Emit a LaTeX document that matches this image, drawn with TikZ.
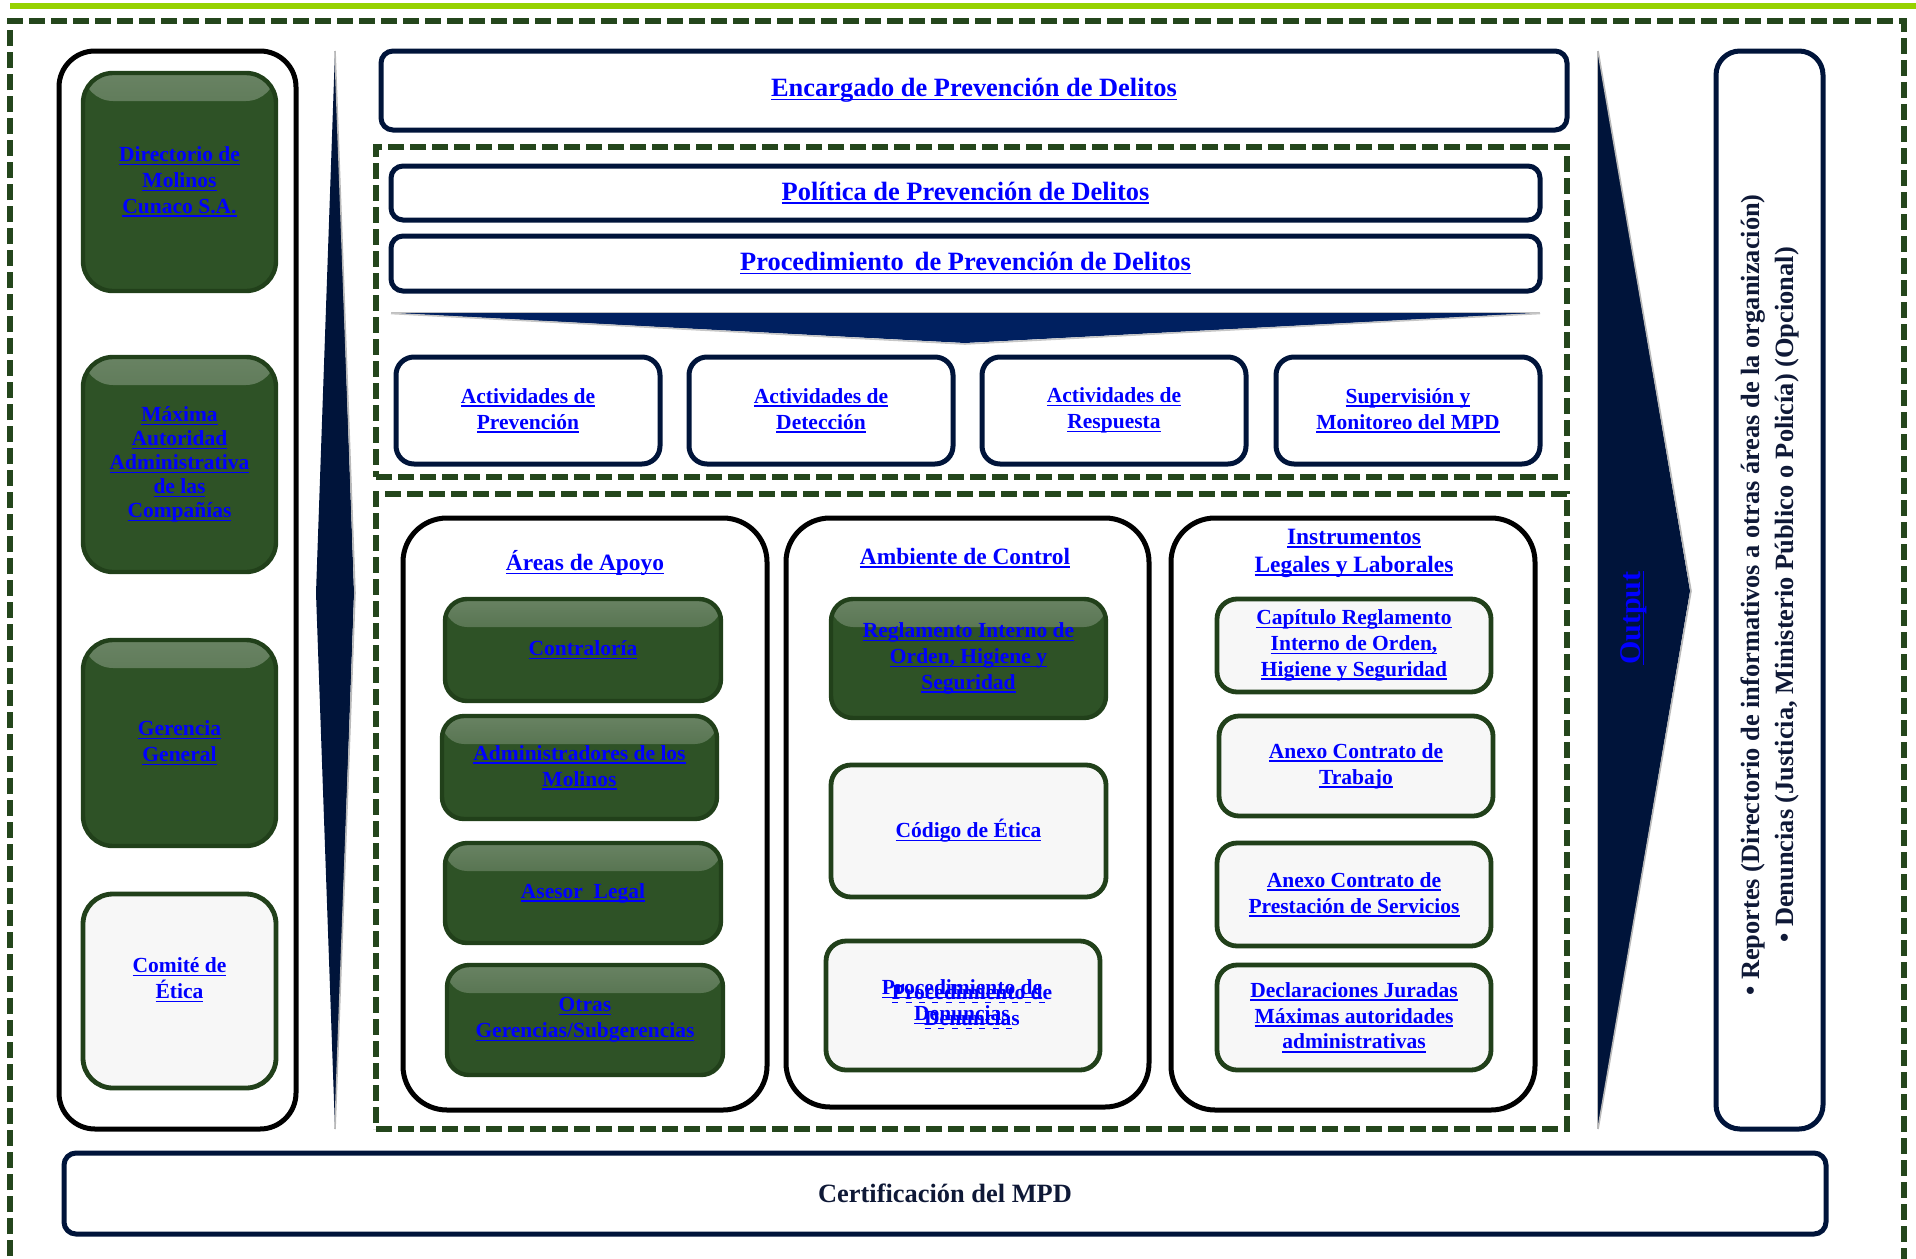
\documentclass[tikz,border=0pt]{standalone}
\usepackage{fontspec}
\setmainfont{Liberation Serif}
\usetikzlibrary{calc}
\definecolor{navy}{RGB}{0,20,58}
\definecolor{wedgeblue}{RGB}{0,32,96}
\definecolor{linkblue}{RGB}{0,0,255}
\definecolor{gfill}{RGB}{46,82,38}
\definecolor{gborder}{RGB}{33,64,26}
\definecolor{dashgreen}{RGB}{36,70,28}
\definecolor{limegreen}{RGB}{150,210,0}
\definecolor{textnavy}{RGB}{15,25,55}
\newsavebox\ulbox
\newcommand\lk[1]{{\color{linkblue}\sbox\ulbox{#1}\rlap{\usebox\ulbox}\rule[-1.8pt]{\wd\ulbox}{0.8pt}}}
\newcommand\dlk[1]{{\color{linkblue}\sbox\ulbox{#1}\rlap{\usebox\ulbox}\hbox to \wd\ulbox{\xleaders\hbox{\rule[-1.8pt]{3pt}{0.8pt}\hspace{3.5pt}}\hfill}}}
\newcommand\bx[7]{\node[#1, minimum width={(#4-#2)*0.5pt}, minimum height={(#5-#3)*0.5pt}] (#6) at ({(#2+#4)/2},{(#3+#5)/2}) {#7};}
\tikzset{
  every node/.style={inner sep=0pt, outer sep=0pt, align=center},
  txt/.style={font=\bfseries\fontsize{10.75}{12.9}\selectfont},
  bigtxt/.style={font=\bfseries\fontsize{13.2}{15.8}\selectfont},
  coltxt/.style={font=\bfseries\fontsize{11.7}{14}\selectfont},
  navybox/.style={draw=navy, line width=2.5pt, fill=white, rounded corners=6pt},
  actbox/.style={draw=navy, line width=2.5pt, fill=white, rounded corners=9pt, txt},
  colbox/.style={draw=black, line width=2.5pt, fill=white, rounded corners=22pt},
  gbox/.style={draw=gborder, line width=2.2pt, fill=gfill, rounded corners=11pt, txt,
    path picture={\shade[top color=gfill!72!white, bottom color=gfill]
      (path picture bounding box.north west) rectangle ($(path picture bounding box.north east)+(0,-14pt)$);}},
  wbox/.style={draw=gborder, line width=2.4pt, fill=white!97!black, rounded corners=10pt, txt},
  gdashbox/.style={draw=dashgreen, line width=2.6pt, dash pattern=on 8pt off 3pt},
}
\begin{document}
\begin{tikzpicture}[x=0.5pt, y=-0.5pt]
\useasboundingbox (0,0) rectangle (1916,1258);
\clip (0,0) rectangle (1916,1258);
% top lime line and outer dashed frame
\draw[limegreen, line width=3pt] (10,6) -- (1916,6);
\draw[gdashbox] (10,1300) -- (10,21) -- (1904,21) -- (1904,1300);

% left column
\bx{colbox, rounded corners=18pt}{59}{51}{296}{1129}{lcol}{}
\bx{gbox, rounded corners=15pt}{83}{73}{276}{291}{dir}{\lk{Directorio de}\\\lk{Molinos}\\\lk{Cunaco S.A.}}
\bx{gbox, rounded corners=15pt, font=\bfseries\fontsize{10.75}{12}\selectfont}{83}{357}{276}{572}{max}{\lk{Máxima}\\\lk{Autoridad}\\\lk{Administrativa}\\\lk{de las}\\\lk{Compañías}}
\bx{gbox, rounded corners=15pt}{83}{640}{276}{846}{ger}{\lk{Gerencia}\\\lk{General}}
\bx{wbox, rounded corners=15pt}{83}{894}{276}{1088}{com}{}
\node[txt] (comtxt) at (179.5,980) {\lk{Comité de}\\\lk{Ética}};

% left spike
\fill[navy] (335,51) -- (354,593) -- (335,1129) -- (316,593) -- cycle;
\draw[gray!55, line width=0.8pt] (335,51) -- (355,593) -- (335,1129);

% top boxes
\bx{navybox, bigtxt}{381}{51}{1567}{130}{enc}{\lk{Encargado de Prevención de Delitos}}
\bx{gdashbox}{376}{147}{1567}{477}{dash1}{}
\bx{navybox, bigtxt}{391}{166}{1540}{220}{pol}{\lk{Política de Prevención de Delitos}}
\bx{navybox, bigtxt}{391}{236}{1540}{291}{proc}{\lk{Procedimiento\,\ de Prevención de Delitos}}
\fill[wedgeblue] (391,313) -- (1540,313) -- (965,343) -- cycle;
\draw[gray!50, line width=0.8pt] (391,312.5) -- (1540,312.5);
\draw[gray!45, line width=0.8pt] (391,313.5) -- (965,344) -- (1540,313.5);

\bx{actbox}{396}{357}{660}{464}{a1}{\lk{Actividades de}\\\lk{Prevención}}
\bx{actbox}{689}{357}{953}{464}{a2}{\lk{Actividades de}\\\lk{Detección}}
\bx{actbox}{982}{357}{1246}{464}{a3}{\lk{Actividades de}\\\lk{Respuesta}}
\bx{actbox}{1276}{357}{1540}{464}{a4}{\lk{Supervisión y}\\\lk{Monitoreo del MPD}}

% lower dashed area
\bx{gdashbox}{376}{494}{1567}{1129}{dash2}{}
\bx{colbox}{403}{518}{767}{1110}{c1}{}
\bx{colbox}{786}{518}{1149}{1107}{c2}{}
\bx{colbox}{1171}{518}{1535}{1110}{c3}{}
\node[coltxt] (t1) at (585,563) {\lk{Áreas de Apoyo}};
\node[coltxt] (t2) at (965,558) {\lk{Ambiente de Control}};
\node[coltxt] (t3) at (1354,553) {\lk{Instrumentos}\\\lk{Legales y Laborales}};

\bx{gbox}{445}{599}{721}{701}{b1}{\lk{Contraloría}}
\bx{gbox}{442}{716}{717}{819}{b2}{\lk{Administradores de los}\\\lk{Molinos}}
\bx{gbox}{445}{843}{721}{943}{b3}{\lk{Asesor\ \ Legal}}
\bx{gbox}{447}{965}{723}{1075}{b4}{\lk{Otras}\\\lk{Gerencias/Subgerencias}}

\bx{gbox}{831}{599}{1106}{718}{m1}{\lk{Reglamento Interno de}\\\lk{Orden, Higiene y}\\\lk{Seguridad}}
\bx{wbox}{831}{765}{1106}{897}{m2}{\lk{Código de Ética}}
\bx{wbox}{826}{941}{1100}{1070}{m3}{}
\node[txt] (m3a) at (962,1002) {\lk{Procedimiento de}\\\lk{Denuncias}};
\node[txt] (m3b) at (972,1007) {\dlk{Procedimiento de}\\\dlk{Denuncias}};

\bx{wbox}{1217}{599}{1491}{692}{i1}{\lk{Capítulo Reglamento}\\\lk{Interno de Orden,}\\\lk{Higiene y Seguridad}}
\bx{wbox}{1219}{716}{1493}{816}{i2}{\lk{Anexo Contrato de}\\\lk{Trabajo}}
\bx{wbox}{1217}{843}{1491}{946}{i3}{\lk{Anexo Contrato de}\\\lk{Prestación de Servicios}}
\bx{wbox}{1217}{965}{1491}{1070}{i4}{\lk{Declaraciones Juradas}\\\lk{Máximas autoridades}\\\lk{administrativas}}

% output arrow
\fill[navy] (1598,51) -- (1690,591) -- (1598,1129) -- cycle;
\draw[gray!55, line width=0.8pt] (1598,51) -- (1691,591) -- (1598,1129);
\draw[gray!55, line width=0.8pt] (1597.5,51) -- (1597.5,1129);
\node[rotate=90, font=\bfseries\fontsize{15}{18}\selectfont] (out) at (1634,618) {\lk{Output}};

% report box
\bx{navybox, rounded corners=12pt}{1716}{51}{1823}{1129}{rep}{}
\node[rotate=90, text=textnavy, font=\bfseries\fontsize{13.2}{17}\selectfont] (reptxt) at (1770,595)
  {• Reportes (Directorio de informativos a otras áreas de la organización)\\• Denuncias (Justicia, Ministerio Público o Policía) (Opcional)};

% certification
\bx{navybox, bigtxt, text=textnavy}{64}{1153}{1826}{1234}{cert}{Certificación del MPD}
\end{tikzpicture}
\end{document}
